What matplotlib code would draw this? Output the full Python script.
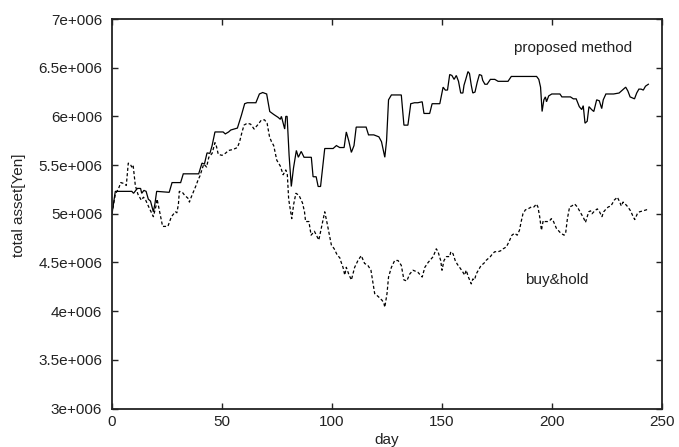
import matplotlib
matplotlib.use("Agg")
import matplotlib.pyplot as plt

plt.rcParams['font.family'] = ['Liberation Sans', 'DejaVu Sans']

# values in millions of yen
pm_days = [0, 1.5, 9, 9.8, 11.5, 13, 13.5, 14.5, 15.5, 16.5, 17.5, 18.8, 19.5, 20.3, 26, 27.3, 31.2, 32.4,
           39.4, 40.9, 42, 43.2, 44.5, 45.5, 46.8, 50.5, 51.5, 53, 54, 55.5, 57, 58.8, 60.3, 61.5, 65.4, 67,
           68.5, 70.3, 71.7, 73.5, 75.5, 76.5, 77, 78.5, 79, 79.6, 80.5, 81.5, 82.5, 83.8, 84.7, 86, 87.3,
           90.6, 91.4, 92.8, 93.7, 94.8, 96.7, 100.5, 102, 103.5, 105.5, 106.5, 107.6, 108.8, 110, 111,
           115.5, 116.6, 119, 121.3, 122.5, 124, 124.8, 125.7, 127, 131.5, 132.7, 134.5, 135.8, 137.5, 139,
           141, 141.8, 144.4, 145.5, 149, 150.5, 151.5, 152.5, 153.5, 154.5, 155.5, 156.5, 157.5, 158.5,
           159.5, 160, 160.8, 161.8, 162.5, 163.3, 164, 165, 166, 167, 168, 168.5, 169.5, 170.5, 172, 174,
           175.5, 180, 181.5, 193, 194, 194.8, 195.5, 196.3, 197, 197.5, 198.5, 199.9, 203.6, 204.5, 208.4,
           209.7, 211, 212.4, 213.5, 214.2, 215, 216, 216.8, 218, 219, 220.3, 221.5, 222.6, 223.3, 224.5,
           228, 230.5, 232, 233.5, 234.5, 235.5, 237.5, 238.5, 239.5, 240.5, 241.5, 242.5, 243.8]
pm_values = [5.00, 5.23, 5.23, 5.21, 5.26, 5.26, 5.21, 5.24, 5.23, 5.15, 5.13, 5.02, 5.10, 5.23, 5.22, 5.32,
             5.32, 5.41, 5.41, 5.52, 5.51, 5.625, 5.62, 5.70, 5.84, 5.84, 5.82, 5.84, 5.86, 5.87, 5.88, 6.01,
             6.13, 6.14, 6.14, 6.23, 6.245, 6.23, 6.05, 6.02, 5.99, 5.97, 6.00, 5.87, 6.00, 6.00, 5.60, 5.28,
             5.47, 5.65, 5.58, 5.64, 5.58, 5.58, 5.38, 5.38, 5.28, 5.28, 5.67, 5.67, 5.70, 5.68, 5.68, 5.84,
             5.75, 5.63, 5.70, 5.89, 5.89, 5.81, 5.81, 5.79, 5.74, 5.58, 5.75, 6.17, 6.22, 6.22, 5.91, 5.91,
             6.13, 6.14, 6.14, 6.15, 6.03, 6.03, 6.13, 6.13, 6.30, 6.27, 6.27, 6.43, 6.42, 6.38, 6.42, 6.36,
             6.24, 6.24, 6.32, 6.38, 6.46, 6.44, 6.32, 6.24, 6.25, 6.35, 6.43, 6.42, 6.37, 6.33, 6.33, 6.38,
             6.38, 6.36, 6.36, 6.41, 6.41, 6.38, 6.30, 6.05, 6.17, 6.20, 6.15, 6.21, 6.23, 6.23, 6.20, 6.20,
             6.18, 6.18, 6.10, 6.07, 6.11, 5.93, 5.95, 6.10, 6.07, 6.05, 6.17, 6.16, 6.08, 6.17, 6.23, 6.23,
             6.24, 6.27, 6.30, 6.26, 6.20, 6.18, 6.24, 6.28, 6.28, 6.27, 6.31, 6.33]

bh_days = [0, 1.5, 3, 4, 5.5, 6.5, 7.4, 8.5, 9, 9.6, 10.6, 11.8, 13.3, 14.3, 15.3, 16.5, 18.8, 20, 20.5,
           21.3, 23, 25.4, 27, 28.8, 29.5, 30.2, 30.6, 32, 33, 34.5, 35.2, 36, 38.2, 39, 40, 41.7, 43, 44,
           45.5, 46.8, 47.5, 48.3, 50, 51.5, 53, 55, 57, 58, 59, 60, 61.5, 63, 64.6, 66.5, 67.8, 69.3, 70.5,
           71.6, 72.5, 73.5, 74.9, 76.5, 77.8, 79, 79.7, 80.3, 81.7, 82.6, 83.6, 85, 86.6, 87.5, 88, 89.5,
           90.5, 92, 94, 96.7, 97.8, 99.7, 101, 102.5, 103.5, 104.2, 105, 105.8, 106.5, 107.6, 108.8, 110.3,
           111.8, 113.3, 114.8, 116.3, 117.7, 119.4, 121, 122.8, 123.6, 124, 125, 125.7, 127, 128.5, 130,
           131.5, 132.7, 134, 135.3, 136.8, 139, 141, 142.2, 143.7, 146, 147.4, 148.2, 149.4, 150, 150.9,
           152, 153.5, 154, 155, 156, 157, 158.3, 159.5, 160.3, 161, 162, 163.3, 164, 164.8, 165.5, 166.5,
           167.8, 169, 170, 171, 172, 173, 174, 175.5, 176.7, 177.8, 179.3, 180.8, 181.8, 183, 184.2, 185.2,
           186, 186.8, 187.9, 189.1, 190.6, 191.8, 192.9, 193.6, 194.4, 195.2, 196, 196.7, 198, 199, 199.7,
           200.5, 202, 204, 205.5, 206.2, 207, 208, 209, 210.3, 211.5, 212.5, 213.3, 214.5, 215.2, 216,
           216.7, 217.5, 218.2, 219.4, 220.6, 221.6, 222.7, 223.5, 224.6, 225.6, 226.8, 228.3, 229.7, 230.8,
           231.5, 232.3, 233.3, 234.5, 235.7, 236.7, 237.6, 238.8, 239.8, 241.4, 242.9, 243.6]
bh_values = [5.00, 5.20, 5.26, 5.32, 5.31, 5.29, 5.52, 5.50, 5.48, 5.50, 5.29, 5.20, 5.14, 5.17, 5.14, 5.08,
             4.97, 5.08, 5.15, 5.06, 4.87, 4.87, 4.97, 5.02, 5.01, 5.10, 5.23, 5.22, 5.19, 5.16, 5.12, 5.17,
             5.29, 5.34, 5.39, 5.51, 5.48, 5.58, 5.62, 5.73, 5.69, 5.61, 5.60, 5.62, 5.65, 5.66, 5.68, 5.74,
             5.83, 5.91, 5.93, 5.92, 5.87, 5.92, 5.96, 5.965, 5.93, 5.79, 5.74, 5.70, 5.55, 5.49, 5.40, 5.45,
             5.40, 5.15, 4.95, 5.10, 5.21, 5.19, 5.11, 5.02, 4.92, 4.92, 4.78, 4.82, 4.73, 5.02, 4.90, 4.68,
             4.64, 4.57, 4.55, 4.50, 4.45, 4.37, 4.45, 4.38, 4.32, 4.45, 4.52, 4.57, 4.49, 4.47, 4.42, 4.18,
             4.15, 4.11, 4.08, 4.04, 4.18, 4.35, 4.45, 4.52, 4.52, 4.47, 4.32, 4.31, 4.38, 4.42, 4.40, 4.35,
             4.45, 4.50, 4.56, 4.64, 4.61, 4.52, 4.42, 4.52, 4.56, 4.56, 4.61, 4.59, 4.52, 4.48, 4.44, 4.40,
             4.37, 4.42, 4.35, 4.28, 4.33, 4.32, 4.38, 4.42, 4.47, 4.49, 4.52, 4.54, 4.56, 4.59, 4.61, 4.61,
             4.62, 4.64, 4.66, 4.73, 4.78, 4.80, 4.78, 4.83, 4.92, 5.00, 5.04, 5.05, 5.07, 5.07, 5.10, 5.07,
             4.97, 4.83, 4.93, 4.92, 4.92, 4.93, 4.95, 4.93, 4.85, 4.80, 4.78, 4.80, 4.95, 5.07, 5.08, 5.10,
             5.07, 5.03, 5.00, 4.95, 4.91, 4.97, 5.02, 5.03, 5.00, 5.03, 5.05, 5.02, 4.97, 5.02, 5.05, 5.07,
             5.08, 5.14, 5.17, 5.12, 5.08, 5.12, 5.10, 5.07, 5.03, 4.98, 4.94, 5.00, 5.02, 5.03, 5.04, 5.05]

xticks = [0, 50, 100, 150, 200, 250]
yticks = [3.0e6, 3.5e6, 4.0e6, 4.5e6, 5.0e6, 5.5e6, 6.0e6, 6.5e6, 7.0e6]
ytick_labels = ["3e+006", "3.5e+006", "4e+006", "4.5e+006", "5e+006",
                "5.5e+006", "6e+006", "6.5e+006", "7e+006"]
series_labels = ["proposed method", "buy&hold"]

W, H = 679, 447
fig = plt.figure(figsize=(W / 100, H / 100), dpi=100)
ax = fig.add_axes([112 / W, 1 - 408.5 / H, 550 / W, 389.5 / H])

ax.plot(pm_days, [v * 1e6 for v in pm_values], color='black', lw=0.9, solid_joinstyle='miter')
ax.plot(bh_days, [v * 1e6 for v in bh_values], color='black', lw=0.9, linestyle=(0, (2.5, 1.8)))

ax.set_xlim(0, 250)
ax.set_ylim(3.0e6, 7.0e6)
ax.set_xticks(xticks)
ax.set_xticklabels([str(t) for t in xticks])
ax.set_yticks(yticks)
ax.set_yticklabels(ytick_labels)

txtc = '#222222'
ax.tick_params(direction='in', length=4, width=1.0, top=True, right=True,
               labelsize=11, labelcolor=txtc, color='#222222')
ax.tick_params(axis='x', pad=5)
ax.tick_params(axis='y', pad=7)
for s in ax.spines.values():
    s.set_linewidth(1.3)
    s.set_color('#222222')

ax.text(209.5, 6.70e6, series_labels[0], fontsize=11, color=txtc, ha='center', va='center')
ax.text(202, 4.32e6, series_labels[1], fontsize=11, color=txtc, ha='center', va='center')

fig.text(19 / W, 1 - 205 / H, "total asset[Yen]", rotation=90, fontsize=11, color=txtc,
         ha='center', va='center')
fig.text(387 / W, 3 / H, "day", fontsize=11, color=txtc, ha='center', va='baseline')

fig.savefig("out.png", dpi=100)
